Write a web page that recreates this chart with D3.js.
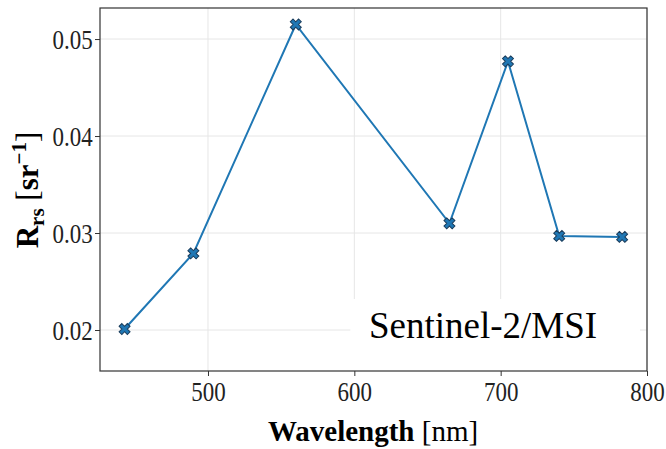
<!DOCTYPE html>
<html>
<head>
<meta charset="utf-8">
<script src="https://cdn.jsdelivr.net/npm/d3@7"></script>
<style>
  html, body { margin: 0; padding: 0; background: #fff; }
  svg { display: block; }
  text { font-family: "Liberation Serif", "Times New Roman", serif; }
</style>
</head>
<body>
<svg id="chart" width="666" height="449"></svg>
<script>
// ---- data ----
const wavelengths = [443, 490, 560, 665, 705, 740, 783];
const rrs = [0.0201, 0.0279, 0.0515, 0.0310, 0.0477, 0.0297, 0.0296];
const xTicks = [500, 600, 700, 800];
const yTicks = [0.02, 0.03, 0.04, 0.05];
const sensorLabel = "Sentinel-2/MSI";

// ---- layout ----
const W = 666, H = 449;
const m = { left: 100, right: 19, top: 8, bottom: 78 };
const iw = W - m.left - m.right, ih = H - m.top - m.bottom;

const svg = d3.select("#chart");
const g = svg.append("g").attr("transform", `translate(${m.left},${m.top})`);

const x = d3.scaleLinear().domain([426.2, 800]).range([0, iw]);
const y = d3.scaleLinear().domain([0.015773, 0.0532]).range([ih, 0]);

// grid
g.append("g").selectAll("line").data(xTicks).join("line")
  .attr("x1", d => x(d)).attr("x2", d => x(d)).attr("y1", 0).attr("y2", ih)
  .attr("stroke", "#e6e6e6").attr("stroke-width", 1);
g.append("g").selectAll("line").data(yTicks).join("line")
  .attr("y1", d => y(d)).attr("y2", d => y(d)).attr("x1", 0).attr("x2", iw)
  .attr("stroke", "#e6e6e6").attr("stroke-width", 1);

// text box (white background hides grid)
const boxX = x(600) - 4, boxY = y(0.0232);
g.append("rect")
  .attr("x", boxX).attr("y", boxY)
  .attr("width", iw - 7 - boxX).attr("height", ih - boxY)
  .attr("fill", "#fff");
g.append("text")
  .attr("x", x(610)).attr("y", y(0.0192))
  .attr("font-size", 37).attr("fill", "#000")
  .text(sensorLabel);

// axes
const xAxis = g.append("g").attr("transform", `translate(0,${ih})`)
  .call(d3.axisBottom(x).tickValues(xTicks).tickFormat(d3.format("d")).tickSizeOuter(0).tickSize(5).tickPadding(4));
const yAxis = g.append("g")
  .call(d3.axisLeft(y).tickValues(yTicks).tickFormat(d3.format(".2f")).tickSizeOuter(0).tickSize(5).tickPadding(4));
[xAxis, yAxis].forEach(a => {
  a.select(".domain").remove();
  a.selectAll(".tick line").attr("stroke", "#333").attr("stroke-width", 1);
  a.selectAll(".tick text").attr("font-size", 28).attr("fill", "#222")
    .attr("font-family", "'Liberation Serif', serif")
    .attr("transform", "scale(0.82,1)");
});
xAxis.selectAll(".tick text").attr("dy", "0.74em");
yAxis.selectAll(".tick text").attr("dy", "0.34em");

// frame
g.append("rect").attr("x", 0).attr("y", 0).attr("width", iw).attr("height", ih)
  .attr("fill", "none").attr("stroke", "#333").attr("stroke-width", 1.2);

// line
const pts = wavelengths.map((w, i) => [w, rrs[i]]);
g.append("path").datum(pts)
  .attr("fill", "none").attr("stroke", "#1f77b4").attr("stroke-width", 2)
  .attr("d", d3.line().x(d => x(d[0])).y(d => y(d[1])));

// markers (filled X)
const xSym = d3.symbol().type(d3.symbolCross).size(75);
g.append("g").selectAll("path").data(pts).join("path")
  .attr("d", xSym)
  .attr("transform", d => `translate(${x(d[0])},${y(d[1])}) rotate(45)`)
  .attr("fill", "#1f77b4").attr("stroke", "#1a3d5c").attr("stroke-width", 1);

// axis titles
const xt = svg.append("text")
  .attr("x", m.left + iw / 2 - 0.5).attr("y", 441)
  .attr("text-anchor", "middle").attr("font-size", 29).attr("fill", "#000");
xt.append("tspan").attr("font-weight", "bold").text("Wavelength ");
xt.append("tspan").text("[nm]");

const yt = svg.append("text")
  .attr("transform", "translate(38,190) rotate(-90)")
  .attr("text-anchor", "middle").attr("font-size", 31).attr("fill", "#000");
yt.append("tspan").attr("font-weight", "bold").text("R");
yt.append("tspan").attr("font-weight", "bold").attr("font-size", 21).attr("dy", 6).text("rs");
yt.append("tspan").attr("dy", -6).text(" [");
yt.append("tspan").attr("font-weight", "bold").text("sr");
yt.append("tspan").attr("font-weight", "bold").attr("font-size", 21).attr("dy", -12).text("−1");
yt.append("tspan").attr("dy", 12).text("]");
</script>
</body>
</html>
